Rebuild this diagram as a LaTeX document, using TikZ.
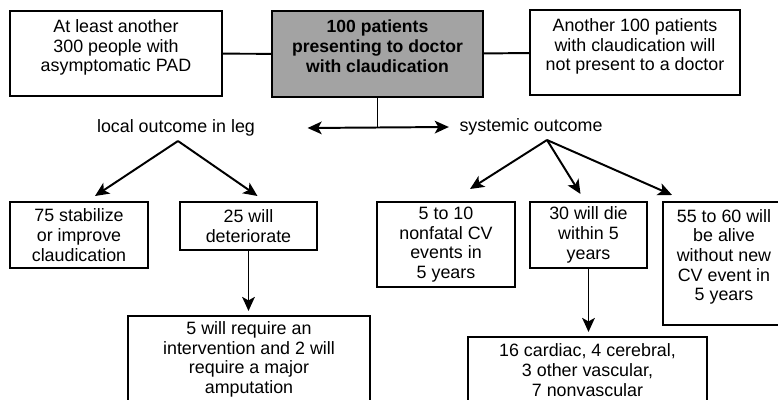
\documentclass[tikz,border=0pt]{standalone}
\usepackage{fontspec}
\setmainfont{Liberation Sans}
\usetikzlibrary{arrows.meta, calc}
\definecolor{grismedio}{HTML}{A3A3A3}
\tikzset{
  caja/.style={rectangle, draw=black, line width=1.4pt, fill=white, text centered, align=center,
               inner sep=2pt, font=\fontsize{12.7}{14}\selectfont},
  cajagris/.style={caja, fill=grismedio, font=\fontsize{12.5}{14}\selectfont\bfseries},
  rotulo/.style={font=\fontsize{12.7}{14}\selectfont, inner sep=1pt},
  arrow/.style={line width=1.4pt,->,>={Stealth[length=10pt,width=9pt,inset=2.5pt]}},
  linea/.style={line width=1.4pt}
}

\begin{document}
\begin{tikzpicture}[x=0.025cm, y=-0.025cm]
  \useasboundingbox (0,0) rectangle (778,400);
  \clip (0,0) rectangle (778,400);
  % fila de arriba
  \node (asint) [caja, minimum width=5.3cm, minimum height=2.125cm] at (116,53.5) {At least another\\300 people with\\asymptomatic PAD\\[-3pt]\mbox{}};
  \node (pac) [cajagris, minimum width=5.275cm, minimum height=2.15cm] at (377.5,54) {100 patients\\presenting to doctor\\with claudication\\[-3pt]\mbox{}};
  \node (otros) [caja, minimum width=5.25cm, minimum height=2.125cm] at (635,52.5) {Another 100 patients\\with claudication will\\not present to a doctor\\[-3pt]\mbox{}};
  \draw [linea] (asint) -- (pac);
  \draw [linea] (pac) -- (otros);
  % rotulos
  \node (local) [rotulo] at (176,128) {local outcome in leg};
  \node (sist) [rotulo] at (531,127) {systemic outcome};
  \draw [linea] (pac.south) -- (pac.south |- local);
  \draw [arrow, <->] ($(local.east)+(51,0)$) -- ($(sist.west)+(-9,0)$);
  % pierna
  \node (estab) [caja, minimum width=3.45cm, minimum height=1.65cm] at (79,235) {75 stabilize\\or improve\\claudication};
  \node (deter) [caja, minimum width=3.425cm, minimum height=1.2cm] at (248.5,226) {25 will\\deteriorate};
  \node (amput) [caja, minimum width=6.05cm, minimum height=2.175cm] at (249,359.5) {5 will require an\\intervention and 2 will\\require a major\\amputation};
  \draw [arrow] ($(local.south)+(2,3)$) -- ($(estab.north)+(16,-5)$);
  \draw [arrow] ($(local.south)+(2,3)$) -- ($(deter.north)+(9,-5)$);
  \draw [arrow, shorten >=0.1cm] (deter.south) -- (deter.south |- amput.north);
  % sistemico
  \node (nofatal) [caja, minimum width=3.45cm, minimum height=2.125cm] at (446,244.5) {5 to 10\\nonfatal CV\\events in\\5 years};
  \node (muere) [caja, minimum width=2.925cm, minimum height=1.65cm] at (588.5,235) {30 will die\\within 5\\years};
  \node (vivos) [caja, minimum width=3.05cm, minimum height=3.075cm] at (724,263.5) {55 to 60 will\\be alive\\without new\\CV event in\\5 years\\[-2pt]\mbox{}};
  \node (causas) [caja, minimum width=5.975cm, minimum height=1.65cm] at (587.5,370) {16 cardiac, 4 cerebral,\\3 other vascular,\\7 nonvascular};
  \draw [arrow] ($(sist.south)+(16,3)$) -- ($(nofatal.north)+(24,-12)$);
  \draw [arrow] ($(sist.south)+(16,3)$) -- ($(muere.north)+(-8,-7)$);
  \draw [arrow] ($(sist.south)+(16,3)$) -- ($(vivos.north)+(-52,-6)$);
  \draw [arrow, shorten >=0.1cm] (muere.south) -- (muere.south |- causas.north);
\end{tikzpicture}
\end{document}
